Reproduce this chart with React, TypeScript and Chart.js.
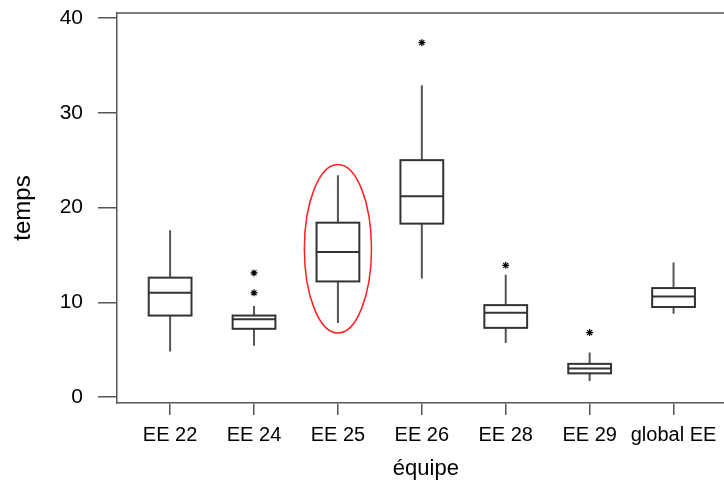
import React, { useEffect, useRef } from "react";
import { Chart, registerables } from "chart.js";

Chart.register(...registerables);

const categories = ["EE 22", "EE 24", "EE 25", "EE 26", "EE 28", "EE 29", "global EE"];
const whiskerLow = [4.8, 5.4, 7.8, 12.5, 5.7, 1.7, 8.8];
const q1 = [8.6, 7.2, 12.2, 18.3, 7.3, 2.5, 9.5];
const median = [11.0, 8.2, 15.3, 21.2, 8.9, 3.0, 10.6];
const q3 = [12.6, 8.6, 18.4, 25.0, 9.7, 3.5, 11.5];
const whiskerHigh = [17.6, 9.6, 23.4, 32.9, 12.9, 4.7, 14.2];
const outlierIndex = [1, 1, 3, 4, 5];
const outlierValue = [13.1, 11.0, 37.4, 13.9, 6.8];
const yTicks = [0, 10, 20, 30, 40];
const highlightIndex = 2;
const highlightCenter = 15.65;
const highlightHalfHeight = 8.9;
const highlightHalfWidth = 0.4;

const FRAME = "#555555";
const BOX = "#333333";
const WHISKER = "#555555";
const BOX_HALF = 0.255;
const FONT = "'Liberation Sans', Arial, sans-serif";

const boxPlugin = {
  id: "boxes",
  afterDatasetsDraw(chart: any) {
    const { ctx, chartArea } = chart;
    const x = chart.scales.x;
    const y = chart.scales.y;
    ctx.save();
    ctx.strokeStyle = FRAME;
    ctx.lineWidth = 1.5;
    ctx.beginPath();
    ctx.moveTo(chartArea.left, chartArea.top);
    ctx.lineTo(chartArea.right, chartArea.top);
    ctx.stroke();

    categories.forEach((_, i) => {
      const cx = x.getPixelForValue(i);
      const xl = x.getPixelForValue(i - BOX_HALF);
      const xr = x.getPixelForValue(i + BOX_HALF);
      const pLow = y.getPixelForValue(whiskerLow[i]);
      const pQ1 = y.getPixelForValue(q1[i]);
      const pMed = y.getPixelForValue(median[i]);
      const pQ3 = y.getPixelForValue(q3[i]);
      const pHigh = y.getPixelForValue(whiskerHigh[i]);
      ctx.strokeStyle = WHISKER;
      ctx.lineWidth = 2;
      ctx.beginPath();
      ctx.moveTo(cx, pQ3);
      ctx.lineTo(cx, pHigh);
      ctx.moveTo(cx, pQ1);
      ctx.lineTo(cx, pLow);
      ctx.stroke();
      ctx.strokeStyle = BOX;
      ctx.lineWidth = 2;
      ctx.strokeRect(xl, pQ3, xr - xl, pQ1 - pQ3);
      ctx.beginPath();
      ctx.moveTo(xl, pMed);
      ctx.lineTo(xr, pMed);
      ctx.stroke();
    });

    const ecx = x.getPixelForValue(highlightIndex);
    const erx = x.getPixelForValue(highlightIndex + highlightHalfWidth) - ecx;
    const ecy = y.getPixelForValue(highlightCenter);
    const ery = y.getPixelForValue(highlightCenter - highlightHalfHeight) - ecy;
    ctx.strokeStyle = "#ff2020";
    ctx.lineWidth = 1.5;
    ctx.beginPath();
    ctx.ellipse(ecx, ecy, Math.abs(erx), Math.abs(ery), 0, 0, Math.PI * 2);
    ctx.stroke();
    ctx.restore();
  },
};

export default function App() {
  const ref = useRef<HTMLCanvasElement>(null);
  useEffect(() => {
    if (!ref.current) return;
    const chart = new Chart(ref.current, {
      type: "scatter",
      data: {
        datasets: [
          {
            data: outlierIndex.map((xi, k) => ({ x: xi, y: outlierValue[k] })),
            pointStyle: "star",
            radius: 3.5,
            borderColor: "#000",
            backgroundColor: "#000",
            borderWidth: 1.2,
          },
        ],
      },
      options: {
        animation: false,
        responsive: false,
        maintainAspectRatio: false,
        layout: { padding: { top: 13, left: 0, right: 1, bottom: 0 } },
        plugins: { legend: { display: false }, tooltip: { enabled: false } },
        scales: {
          x: {
            type: "linear",
            min: -0.633,
            max: 6.73,
            afterFit: (s: any) => {
              s.height = 80;
              s.paddingLeft = 0;
              s.paddingRight = 0;
            },
            afterBuildTicks: (s: any) => {
              s.ticks = categories.map((_, i) => ({ value: i }));
            },
            ticks: {
              callback: (v: any) => categories[Math.round(Number(v))] ?? "",
              color: "#000",
              font: { family: FONT, size: 20 },
              padding: 8,
              maxRotation: 0,
              autoSkip: false,
            },
            grid: {
              drawOnChartArea: false,
              drawTicks: true,
              tickLength: 12,
              color: FRAME,
              lineWidth: 1.5,
            },
            border: { display: true, color: FRAME, width: 1.5 },
            title: {
              display: true,
              text: "équipe",
              color: "#000",
              font: { family: FONT, size: 22 },
              padding: { top: 0, bottom: 1 },
            },
          },
          y: {
            type: "linear",
            min: -0.63,
            max: 40.53,
            afterFit: (s: any) => {
              s.width = 117;
              s.paddingTop = 0;
              s.paddingBottom = 0;
            },
            afterBuildTicks: (s: any) => {
              s.ticks = yTicks.map((v) => ({ value: v }));
            },
            ticks: {
              color: "#000",
              font: { family: FONT, size: 21 },
              padding: 15,
            },
            grid: {
              drawOnChartArea: false,
              drawTicks: true,
              tickLength: 19,
              color: FRAME,
              lineWidth: 1.5,
            },
            border: { display: true, color: FRAME, width: 1.5 },
            title: {
              display: true,
              text: "temps",
              color: "#000",
              font: { family: FONT, size: 24 },
              padding: { top: 9, bottom: 0 },
            },
          },
        },
      },
      plugins: [boxPlugin],
    });
    return () => chart.destroy();
  }, []);
  return (
    <div
      style={{
        position: "fixed",
        left: 0,
        top: 0,
        width: 724,
        height: 483,
        overflow: "hidden",
        background: "#fff",
      }}
    >
      <canvas ref={ref} width={740} height={483} style={{ display: "block" }} />
    </div>
  );
}
